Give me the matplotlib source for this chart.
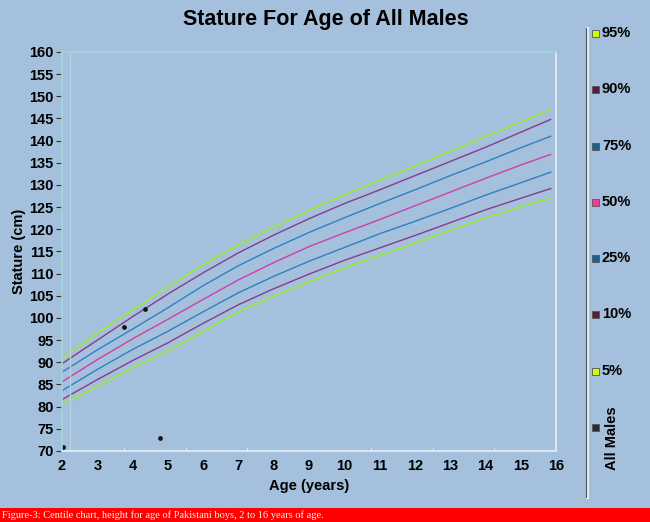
import matplotlib
matplotlib.use("Agg")
import matplotlib.pyplot as plt
from matplotlib.patches import Rectangle
from matplotlib.lines import Line2D

ages = [2, 3, 4, 5, 6, 7, 8, 9, 10, 11, 12, 13, 14, 15, 15.85]
p95 = [90.8, 96.6, 101.8, 107.0, 112.0, 116.5, 120.5, 124.3, 127.8, 131.1, 134.3, 137.6, 140.9, 144.2, 147.0]
p90 = [89.7, 95.0, 100.3, 105.4, 110.2, 114.7, 118.7, 122.4, 125.8, 128.9, 132.1, 135.3, 138.5, 141.9, 144.8]
p75 = [87.8, 92.8, 97.5, 102.3, 107.3, 111.8, 115.7, 119.3, 122.6, 125.8, 128.9, 132.1, 135.2, 138.4, 141.0]
p50 = [85.6, 90.6, 95.3, 99.7, 104.2, 108.6, 112.5, 116.1, 119.2, 122.2, 125.3, 128.4, 131.5, 134.5, 136.9]
p25 = [83.6, 88.4, 92.9, 97.0, 101.4, 105.7, 109.4, 112.8, 115.9, 119.0, 121.8, 124.7, 127.7, 130.5, 132.9]
p10 = [81.6, 86.1, 90.4, 94.4, 98.8, 103.0, 106.6, 109.9, 113.0, 115.8, 118.6, 121.5, 124.4, 127.0, 129.2]
p05 = [80.5, 84.6, 88.8, 92.6, 97.0, 101.4, 104.9, 108.2, 111.3, 114.1, 116.9, 119.8, 122.6, 125.1, 127.0]

pt_age = [2.03, 3.76, 4.35, 4.78]
pt_height = [71.0, 97.9, 102.0, 73.0]

legend_labels = ["95%", "90%", "75%", "50%", "25%", "10%", "5%"]
x_ticks = list(range(2, 17))
y_ticks = list(range(70, 161, 5))

title = "Stature For Age of All Males"
caption = "Figure-3: Centile chart, height for age of Pakistani boys, 2 to 16 years of age."

bg = "#a4c0dd"
line_colors = ["#9cf01a", "#8a3a8a", "#2f80c2", "#cf3fa6", "#2f80c2", "#8a3a8a", "#9cf01a"]
legend_colors = ["#ccff00", "#5c1a3a", "#1a6090", "#ff3399", "#1a6090", "#5c1a3a", "#ccff00"]

fig = plt.figure(figsize=(6.5, 5.22), dpi=100, facecolor=bg)
ax = fig.add_axes([62/650, 1-451/522, (556-62)/650, (451-52)/522])
ax.set_facecolor(bg)

series = [p95, p90, p75, p50, p25, p10, p05]
for s, c in zip(series, line_colors):
    ax.plot(ages, s, color=c, lw=1.0, solid_joinstyle="round")

ax.plot(pt_age, pt_height, ls="none", marker="o", ms=2.4, color="#111111")

ax.axvline(2.22, color="#b4d4e4", lw=1)

ax.set_xlim(2, 16)
ax.set_ylim(70, 160)
ax.set_xticks(x_ticks)
ax.set_xticklabels([str(t) for t in x_ticks])
ax.set_yticks(y_ticks)
ax.set_yticklabels([str(t) for t in y_ticks])
ax.set_xticks([2 + k * 1.75 for k in range(9)], minor=True)

for lab in ax.get_xticklabels() + ax.get_yticklabels():
    lab.set_fontfamily("Liberation Sans")
    lab.set_fontweight("bold")
    lab.set_fontsize(10.5)
ax.tick_params(axis="x", which="major", length=0, pad=6)
ax.tick_params(axis="x", which="minor", length=3, direction="in", color="#e8f0f8")
ax.tick_params(axis="y", which="major", length=4, direction="out", color="#333333", pad=2)

ax.spines["left"].set_color("#9fd6dc")
ax.spines["top"].set_color("#9fd6dc")
ax.spines["right"].set_color("#e8f0f8")
ax.spines["bottom"].set_color("#e4eef8")
for sp in ax.spines.values():
    sp.set_linewidth(1.2)

ax.set_xlabel("Age (years)", fontfamily="Liberation Sans", fontweight="bold", fontsize=10.5, labelpad=4)
ax.set_ylabel("Stature (cm)", fontfamily="Liberation Sans", fontweight="bold", fontsize=10.5, labelpad=2)

fig.text(326/650, 1-20/522, title, ha="center", va="center",
         fontfamily="Liberation Sans", fontweight="bold", fontsize=15.5)

# legend area
fig.add_artist(Line2D([587/650, 587/650], [1-28/522, 1-497/522], color="#e8eef4", lw=2.2))
fig.add_artist(Line2D([586/650, 586/650], [1-28/522, 1-497/522], color="#4a5560", lw=0.8))
leg_y = [33, 89, 146, 202, 258, 314, 371]
sq = 7
for lbl, col, yy in zip(legend_labels, legend_colors, leg_y):
    fig.add_artist(Rectangle(((592)/650, 1-(yy+sq/2)/522), sq/650, sq/522,
                             facecolor=col, edgecolor="#555555", lw=0.6))
    fig.text(602/650, 1-yy/522, lbl, ha="left", va="center",
             fontfamily="Liberation Sans", fontweight="bold", fontsize=10.5)
fig.add_artist(Rectangle((592/650, 1-(427+sq/2)/522), sq/650, sq/522,
                         facecolor="#2a2a2a", edgecolor="#555555", lw=0.6))
fig.text(612/650, 1-438/522, "All Males", ha="center", va="center", rotation=90,
         fontfamily="Liberation Sans", fontweight="bold", fontsize=10.5)

# caption bar
fig.add_artist(Rectangle((0, 0), 1, 14/522, facecolor="#ff0000", edgecolor="none"))
fig.text(2/650, 7/522, caption, ha="left", va="center", color="#fff0f0",
         fontfamily="Liberation Serif", fontsize=7.5)

fig.savefig("out.png", dpi=100, facecolor=bg)
